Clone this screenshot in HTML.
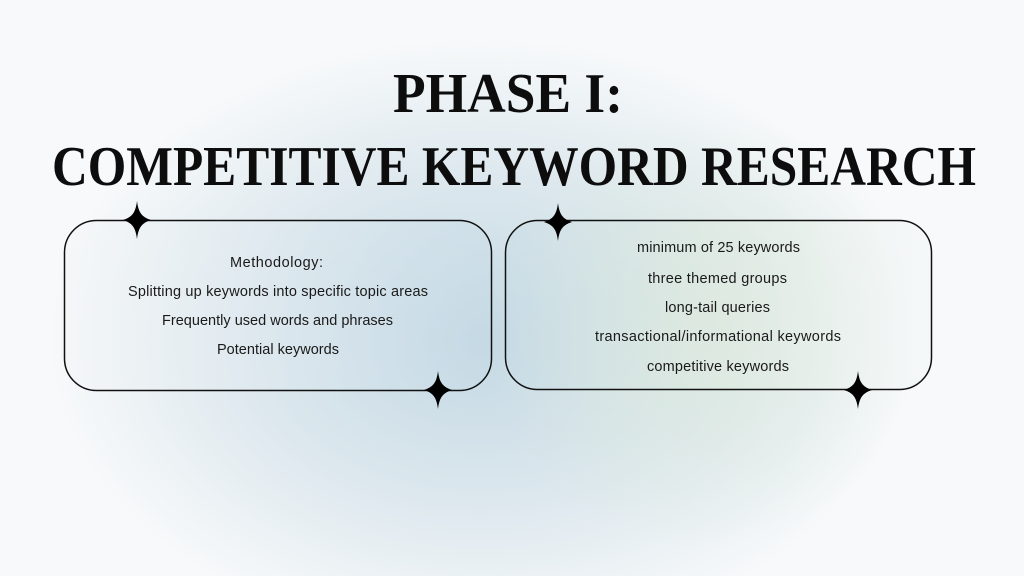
<!DOCTYPE html>
<html><head><meta charset="utf-8"><style>
html,body{margin:0;padding:0;width:1024px;height:576px;overflow:hidden}
body{background:#f6f8f9}
</style></head><body>
<svg width="1024" height="576" viewBox="0 0 1024 576" xmlns="http://www.w3.org/2000/svg">
<defs>
<radialGradient id="g1" cx="480" cy="340" r="430" gradientUnits="userSpaceOnUse" gradientTransform="translate(480 340) scale(1 0.7) translate(-480 -340)">
<stop offset="0" stop-color="#c3d8e4"/>
<stop offset="0.55" stop-color="#dde8ee"/>
<stop offset="1" stop-color="#f7f9fa"/>
</radialGradient>
<radialGradient id="g2" cx="700" cy="330" r="220" gradientUnits="userSpaceOnUse">
<stop offset="0" stop-color="#dce9dc" stop-opacity="0.8"/>
<stop offset="1" stop-color="#dce9dc" stop-opacity="0"/>
</radialGradient>
<linearGradient id="lb" x1="0" x2="1" y1="0" y2="0">
<stop offset="0" stop-color="#f4f6f7" stop-opacity="0.6"/>
<stop offset="1" stop-color="#c7dbe6" stop-opacity="0.4"/>
</linearGradient>
<linearGradient id="rb" x1="0" x2="1" y1="0" y2="0">
<stop offset="0" stop-color="#c7dbe6" stop-opacity="0.4"/>
<stop offset="0.5" stop-color="#dfeadf" stop-opacity="0.4"/>
<stop offset="1" stop-color="#f4f7f8" stop-opacity="0.6"/>
</linearGradient>
<path id="star" d="M0,-19 C1.5,-7 5,-3 14,0 C5,3 1.5,7 0,19 C-1.5,7 -5,3 -14,0 C-5,-3 -1.5,-7 0,-19 Z"/>
</defs>
<rect width="1024" height="576" fill="url(#g1)"/>
<rect width="1024" height="576" fill="url(#g2)"/>
<g font-family="'Liberation Serif',serif" font-weight="bold" fill="#0d0d0d" text-anchor="middle">
<text x="508" y="112" font-size="56" textLength="230" lengthAdjust="spacingAndGlyphs">PHASE I:</text>
<text x="514" y="185" font-size="56" textLength="924" lengthAdjust="spacingAndGlyphs">COMPETITIVE KEYWORD RESEARCH</text>
</g>
<rect x="64.5" y="220.5" width="427" height="170" rx="32" fill="url(#lb)" stroke="#111" stroke-width="1.5"/>
<rect x="505.5" y="220.5" width="426" height="169" rx="32" fill="url(#rb)" stroke="#111" stroke-width="1.5"/>
<g fill="#000">
<use href="#star" x="137" y="220"/>
<use href="#star" x="438" y="390"/>
<use href="#star" x="558" y="222"/>
<use href="#star" x="858" y="390"/>
</g>
<g font-family="'Liberation Sans',sans-serif" font-size="14.5" fill="#1a1a1a" lengthAdjust="spacingAndGlyphs">
<text x="230" y="267" textLength="93">Methodology:</text>
<text x="128" y="296" textLength="300">Splitting up keywords into specific topic areas</text>
<text x="162" y="325" textLength="231">Frequently used words and phrases</text>
<text x="217" y="354" textLength="122">Potential keywords</text>
<text x="637" y="252" textLength="163">minimum of 25 keywords</text>
<text x="648" y="283" textLength="139">three themed groups</text>
<text x="665" y="312" textLength="105">long-tail queries</text>
<text x="595" y="341" textLength="246">transactional/informational keywords</text>
<text x="647" y="371" textLength="142">competitive keywords</text>
</g>
</svg>
</body></html>
